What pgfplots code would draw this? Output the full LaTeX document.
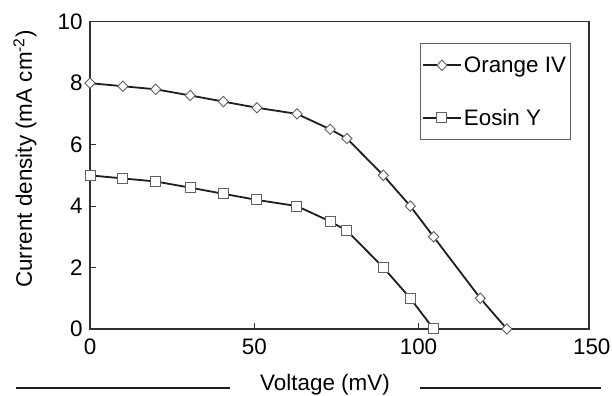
\documentclass[border=0pt]{standalone}
\usepackage{fontspec}
\setmainfont{Liberation Sans}
\usepackage{pgfplots}
\pgfplotsset{compat=1.18}
\definecolor{lineC}{HTML}{1E1E1E}
\definecolor{markC}{HTML}{606060}
\definecolor{frameC}{HTML}{303030}
\begin{document}
\begin{tikzpicture}
\useasboundingbox (0,0) rectangle (612bp,396bp);
\begin{axis}[
  at={(90bp,67bp)}, anchor=south west,
  scale only axis, width=499bp, height=307.3bp,
  xmin=0, xmax=151.9, ymin=0, ymax=10,
  xtick={0,50,100}, ytick={0,2,4,6,8,10},
  extra x ticks={150}, extra x tick labels={150},
  extra x tick style={major tick length=0pt, xticklabel style={xshift=9bp}},
  tick pos=left, tick align=inside, major tick length=6bp,
  axis line style={frameC, line width=1.3bp},
  tick style={frameC, line width=1bp},
  font=\fontsize{22.5}{26}\selectfont,
  /pgf/number format/assume math mode=true,
  xticklabel style={yshift=-6bp},
  yticklabel style={xshift=-4bp},
  legend style={at={(0.963,0.93)}, anchor=north east, draw=markC, line width=1bp,
    inner xsep=2bp, inner ysep=11bp, row sep=31bp, font=\fontsize{22.5}{26}\selectfont},
  legend cell align=left,
  legend image code/.code={\draw[mark repeat=2,mark phase=2] plot coordinates {(0bp,0bp)(19bp,0bp)(38bp,0bp)};},
]
\addplot[lineC, line width=1.8bp, mark=diamond*, mark size=5.2bp,
  mark options={fill=white, draw=markC, line width=0.9bp, xscale=1.3}]
  coordinates {(0,8) (10,7.9) (20,7.8) (30.5,7.6) (40.6,7.4) (50.8,7.2) (63,7.0) (73.1,6.5) (78.2,6.2) (89.3,5.0) (97.5,4.0) (104.6,3.0) (118.8,1.0) (126.9,0)};
\addlegendentry{Orange IV}
\addplot[lineC, line width=1.8bp, mark=square*, mark size=5bp,
  mark options={fill=white, draw=markC, line width=1bp}]
  coordinates {(0,5) (10,4.9) (20,4.8) (30.5,4.6) (40.6,4.4) (50.8,4.2) (63,4.0) (73.1,3.5) (78.2,3.2) (89.3,2.0) (97.5,1.0) (104.6,0)};
\addlegendentry{Eosin Y}
\end{axis}
\node[font=\fontsize{22.5}{26}\selectfont, rotate=90] at (25bp,237bp) {Current density (mA cm\textsuperscript{-2})};
\node[font=\fontsize{22.5}{26}\selectfont] at (325bp,11bp) {Voltage (mV)};
\draw[lineC, line width=1.3bp] (16bp,8bp) -- (230bp,8bp);
\draw[lineC, line width=1.3bp] (420bp,8bp) -- (601bp,8bp);
\end{tikzpicture}
\end{document}
